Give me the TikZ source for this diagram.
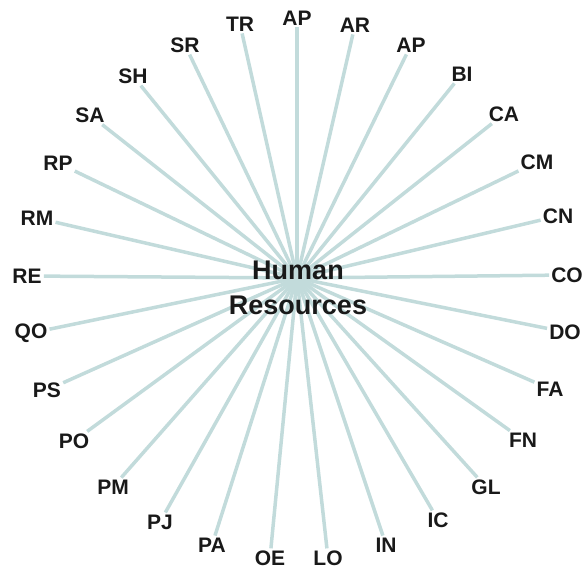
\documentclass[tikz,border=0pt]{standalone}
\usepackage{fontspec}
\setmainfont{Liberation Sans}
\usetikzlibrary{backgrounds}
\definecolor{spoke}{RGB}{194,219,219}
\definecolor{ink}{RGB}{25,25,25}
\tikzset{
  lbl/.style={font=\fontsize{21}{23}\selectfont\bfseries, text=ink, inner sep=2pt},
  hub/.style={font=\fontsize{27}{35}\selectfont\bfseries, text=ink, align=center, inner sep=0pt},
  spokeline/.style={draw=spoke, line width=3.5pt}
}
\begin{document}
\begin{tikzpicture}[x=1pt,y=-1pt]
\useasboundingbox (0,0) rectangle (587,571);
\coordinate (c) at (297,278);
\node[hub] (hr) at (298,288) {Human\\Resources};
\node[lbl] (n1) at (297,18) {AP};
\node[lbl] (n2) at (355,25) {AR};
\node[lbl] (n3) at (411,45) {AP};
\node[lbl] (n4) at (462,74) {BI};
\node[lbl] (n5) at (504,114) {CA};
\node[lbl] (n6) at (537,162) {CM};
\node[lbl] (n7) at (558,216) {CN};
\node[lbl] (n8) at (567,275) {CO};
\node[lbl] (n9) at (565,332) {DO};
\node[lbl] (n10) at (550,389) {FA};
\node[lbl] (n11) at (523,440) {FN};
\node[lbl] (n12) at (486,487) {GL};
\node[lbl] (n13) at (438,520) {IC};
\node[lbl] (n14) at (386,545) {IN};
\node[lbl] (n15) at (328,558) {LO};
\node[lbl] (n16) at (270,558) {OE};
\node[lbl] (n17) at (212,545) {PA};
\node[lbl] (n18) at (160,522) {PJ};
\node[lbl] (n19) at (113,487) {PM};
\node[lbl] (n20) at (74,441) {PO};
\node[lbl] (n21) at (47,390) {PS};
\node[lbl] (n22) at (31,333) {QO};
\node[lbl] (n23) at (27,276) {RE};
\node[lbl] (n24) at (37,218) {RM};
\node[lbl] (n25) at (58,163) {RP};
\node[lbl] (n26) at (90,115) {SA};
\node[lbl] (n27) at (133,76) {SH};
\node[lbl] (n28) at (185,45) {SR};
\node[lbl] (n29) at (240,24) {TR};
\begin{scope}[on background layer]
\foreach \i in {1,...,29} {
  \draw[spokeline] (c) -- (n\i);
}
\end{scope}
\end{tikzpicture}
\end{document}
